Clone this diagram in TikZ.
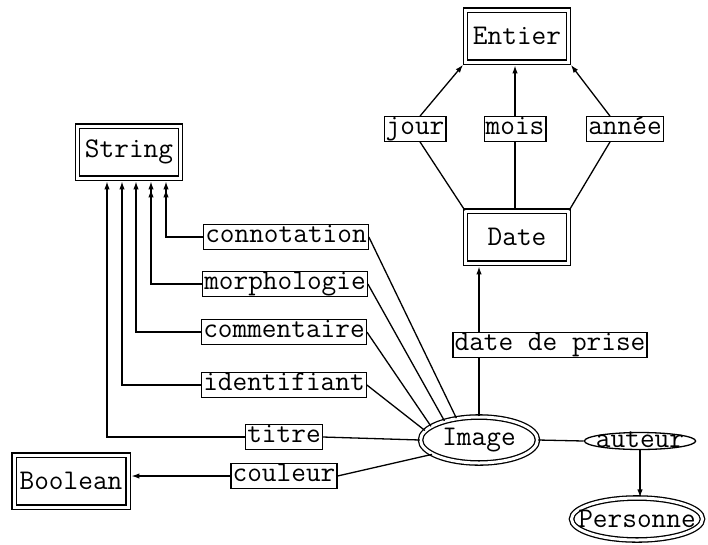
\documentclass[tikz,border=0pt]{standalone}
\usepackage{fontspec}
\usepackage{tikz}
\usetikzlibrary{arrows.meta,shapes.geometric}

\begin{document}
\begin{tikzpicture}[x=1pt,y=-1pt,>={Latex[length=8pt,width=5.5pt]},line width=1.3pt,
  font=\fontsize{28.5}{32}\selectfont\ttfamily,
  type/.style={rectangle,draw,double,double distance=3pt,inner sep=0pt,minimum width=103pt,minimum height=52pt},
  attr/.style={rectangle,draw,fill=white,inner xsep=1.5pt,inner ysep=1pt,text height=17pt,text depth=5.5pt},
  obj/.style={ellipse,draw,double,double distance=3pt,inner sep=0pt},
  lien/.style={ellipse,draw,inner ysep=0pt,inner xsep=-4.7pt,text height=12pt,text depth=0pt},
  vers/.style={->,shorten >=2.8pt},
  versmult/.style={->>,shorten >=2.8pt}]
  \useasboundingbox (0,0) rectangle (708,544);

  \node[type] (entier) at (517,36) {Entier};
  \node[attr] (jour) at (415,129) {jour};
  \node[attr] (mois) at (515,129) {mois};
  \node[attr] (annee) at (625,129) {année};
  \node[type] (date) at (517,237) {Date};
  \node[type] (string) at (129,152) {String};
  \node[type,minimum width=114pt] (boolean) at (71,481) {Boolean};

  \node[attr] (connot) at (286,237) {connotation};
  \node[attr] (morpho) at (285,284) {morphologie};
  \node[attr] (comm) at (284,332) {commentaire};
  \node[attr] (ident) at (284,385) {identifiant};
  \node[attr] (titre) at (284,437) {titre};
  \node[attr] (couleur) at (284,476) {couleur};
  \node[attr] (prise) at (550,345) {date de prise};

  \node[obj,minimum width=117pt,minimum height=46pt] (image) at (479,440) {Image};
  \node[lien] (auteur) at (640,441) {auteur};
  \node[obj,minimum width=131pt,minimum height=42pt,inner xsep=-17pt] (personne) at (637,519) {Personne};

  \draw[vers] ([xshift=5]jour.north) -- (entier.south west);
  \draw ([xshift=5]jour.south) -- (date.north west);
  \draw[vers] (mois.north) -- (mois.north |- entier.south);
  \draw (mois.south) -- (mois.south |- date.north);
  \draw[vers] ([xshift=-15]annee.north) -- (entier.south east);
  \draw ([xshift=-15]annee.south) -- (date.north east);

  \draw[versmult] (connot.west) -| ([xshift=37]string.south);
  \draw[versmult] (morpho.west) -| ([xshift=22]string.south);
  \draw[vers] (comm.west) -| ([xshift=7]string.south);
  \draw[vers] (ident.west) -| ([xshift=-7]string.south);
  \draw[vers] (titre.west) -| ([xshift=-22]string.south);

  \draw (connot.east) -- (image.136);
  \draw (morpho.east) -- (image.151);
  \draw (comm.east) -- (image.164);
  \draw (ident.east) -- (image.170);
  \draw (titre.east) -- (image.west);
  \draw (couleur.east) -- (image.197);
  \draw[vers] (couleur.west) -- (couleur.west -| boolean.east);

  \draw (image.north) -- (image.north |- prise.south);
  \draw[vers] (image.north |- prise.north) -- (image.north |- date.south);
  \draw (image.east) -- (auteur.west);
  \draw[->] (auteur.south) -- (auteur.south |- personne.north);
\end{tikzpicture}
\end{document}
